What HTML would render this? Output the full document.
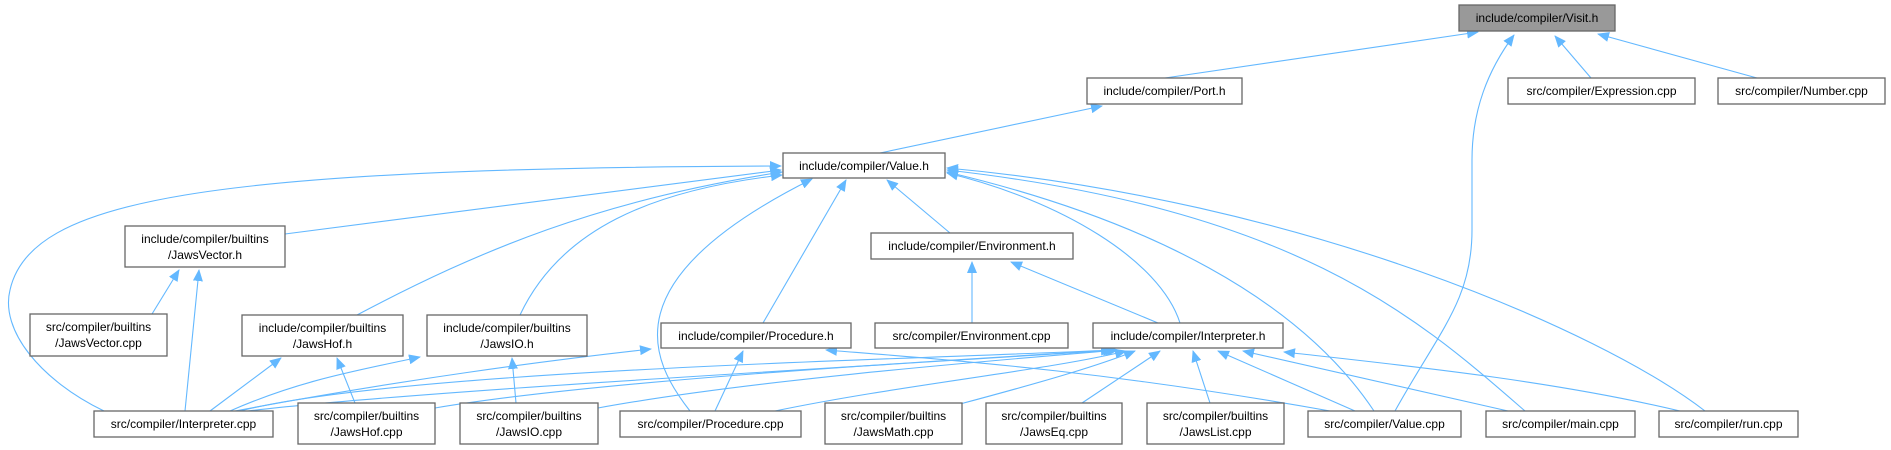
<!DOCTYPE html>
<html><head><meta charset="utf-8"><style>
html,body{margin:0;padding:0;background:#fff;}
svg{display:block;}
text{font-family:"Liberation Sans",Arial,sans-serif;font-size:12px;fill:#000;}
.n{fill:#fff;stroke:#666;stroke-width:1.3;}
.e{fill:none;stroke:#63b8ff;stroke-width:1.1;}
</style></head><body>
<svg width="1891" height="450" viewBox="0 0 1891 450" xmlns="http://www.w3.org/2000/svg">
<defs>
<marker id="a" markerUnits="userSpaceOnUse" markerWidth="12" markerHeight="10" refX="11" refY="5" orient="auto">
<path d="M0,0 L12,5 L0,10 z" fill="#63b8ff"/>
</marker>
</defs>
<g class="e" marker-end="url(#a)">
<path d="M1165,78 L1478,32"/>
<path d="M1395,411 C1440,330 1472,300 1472,230 L1472,160 C1472,110 1488,70 1514,35"/>
<path d="M1591,78 L1555,36"/>
<path d="M1757,78 L1598,34"/>
<path d="M880,153 L1102,106"/>
<path d="M104,411 C40,380 0,330 10,290 C30,200 200,168 781,166"/>
<path d="M285,234 L781,170"/>
<path d="M357,315 C480,250 600,200 782,172"/>
<path d="M520,315 C560,230 650,190 782,175"/>
<path d="M690,411 C650,360 610,280 812,179"/>
<path d="M763,323 L846,180"/>
<path d="M950,233 L887,180"/>
<path d="M1180,323 C1160,260 1060,200 947,173"/>
<path d="M1374,411 C1300,300 1150,220 947,172"/>
<path d="M1525,411 C1420,320 1300,210 947,170"/>
<path d="M1705,411 C1600,330 1300,200 947,168"/>
<path d="M152,314 L179,270"/>
<path d="M185,411 L199,270"/>
<path d="M210,411 L281,358"/>
<path d="M355,403 L337,358"/>
<path d="M230,411 C300,380 360,370 420,357"/>
<path d="M516,403 L512,358"/>
<path d="M235,411 C400,380 550,360 651,349"/>
<path d="M715,411 L743,351"/>
<path d="M1330,411 C1100,370 950,360 826,350"/>
<path d="M972,323 L972,262"/>
<path d="M1158,323 L1011,262"/>
<path d="M240,411 C400,370 900,360 1112,350"/>
<path d="M248,411 C420,390 900,365 1114,350"/>
<path d="M435,408 C600,380 950,360 1116,350"/>
<path d="M598,408 C750,380 1000,360 1118,350"/>
<path d="M775,411 C900,385 1050,370 1126,351"/>
<path d="M960,404 C1050,380 1100,365 1135,351"/>
<path d="M1082,403 L1160,351"/>
<path d="M1210,403 L1193,351"/>
<path d="M1355,411 L1218,351"/>
<path d="M1508,411 L1243,351"/>
<path d="M1680,411 C1550,380 1400,365 1284,352"/>
</g>
<g>
<rect x="1459" y="5" width="156" height="26" fill="#999" stroke="#666" stroke-width="1.3"/>
<text x="1537" y="22" text-anchor="middle">include/compiler/Visit.h</text>
<rect class="n" x="1087" y="78" width="155" height="26"/><text x="1164.5" y="95" text-anchor="middle">include/compiler/Port.h</text>
<rect class="n" x="1508" y="78" width="187" height="26"/><text x="1601.5" y="95" text-anchor="middle">src/compiler/Expression.cpp</text>
<rect class="n" x="1718" y="78" width="167" height="26"/><text x="1801.5" y="95" text-anchor="middle">src/compiler/Number.cpp</text>
<rect class="n" x="783" y="153" width="162" height="25"/><text x="864" y="170" text-anchor="middle">include/compiler/Value.h</text>
<rect class="n" x="125" y="226" width="160" height="41"/><text x="205" y="243" text-anchor="middle">include/compiler/builtins</text><text x="205" y="259" text-anchor="middle">/JawsVector.h</text>
<rect class="n" x="871" y="233" width="202" height="26"/><text x="972" y="250" text-anchor="middle">include/compiler/Environment.h</text>
<rect class="n" x="30" y="314" width="137" height="42"/><text x="98.5" y="331" text-anchor="middle">src/compiler/builtins</text><text x="98.5" y="347" text-anchor="middle">/JawsVector.cpp</text>
<rect class="n" x="242" y="315" width="161" height="41"/><text x="322.5" y="332" text-anchor="middle">include/compiler/builtins</text><text x="322.5" y="348" text-anchor="middle">/JawsHof.h</text>
<rect class="n" x="427" y="315" width="160" height="41"/><text x="507" y="332" text-anchor="middle">include/compiler/builtins</text><text x="507" y="348" text-anchor="middle">/JawsIO.h</text>
<rect class="n" x="661" y="323" width="190" height="25"/><text x="756" y="340" text-anchor="middle">include/compiler/Procedure.h</text>
<rect class="n" x="875" y="323" width="193" height="25"/><text x="971.5" y="340" text-anchor="middle">src/compiler/Environment.cpp</text>
<rect class="n" x="1093" y="323" width="190" height="25"/><text x="1188" y="340" text-anchor="middle">include/compiler/Interpreter.h</text>
<rect class="n" x="94" y="411" width="179" height="26"/><text x="183.5" y="428" text-anchor="middle">src/compiler/Interpreter.cpp</text>
<rect class="n" x="298" y="403" width="137" height="41"/><text x="366.5" y="420" text-anchor="middle">src/compiler/builtins</text><text x="366.5" y="436" text-anchor="middle">/JawsHof.cpp</text>
<rect class="n" x="460" y="403" width="138" height="41"/><text x="529" y="420" text-anchor="middle">src/compiler/builtins</text><text x="529" y="436" text-anchor="middle">/JawsIO.cpp</text>
<rect class="n" x="620" y="411" width="181" height="26"/><text x="710.5" y="428" text-anchor="middle">src/compiler/Procedure.cpp</text>
<rect class="n" x="825" y="403" width="137" height="41"/><text x="893.5" y="420" text-anchor="middle">src/compiler/builtins</text><text x="893.5" y="436" text-anchor="middle">/JawsMath.cpp</text>
<rect class="n" x="986" y="403" width="136" height="41"/><text x="1054" y="420" text-anchor="middle">src/compiler/builtins</text><text x="1054" y="436" text-anchor="middle">/JawsEq.cpp</text>
<rect class="n" x="1147" y="403" width="137" height="41"/><text x="1215.5" y="420" text-anchor="middle">src/compiler/builtins</text><text x="1215.5" y="436" text-anchor="middle">/JawsList.cpp</text>
<rect class="n" x="1308" y="411" width="153" height="26"/><text x="1384.5" y="428" text-anchor="middle">src/compiler/Value.cpp</text>
<rect class="n" x="1486" y="411" width="149" height="26"/><text x="1560.5" y="428" text-anchor="middle">src/compiler/main.cpp</text>
<rect class="n" x="1659" y="411" width="139" height="26"/><text x="1728.5" y="428" text-anchor="middle">src/compiler/run.cpp</text>
</g>
</svg>
</body></html>
